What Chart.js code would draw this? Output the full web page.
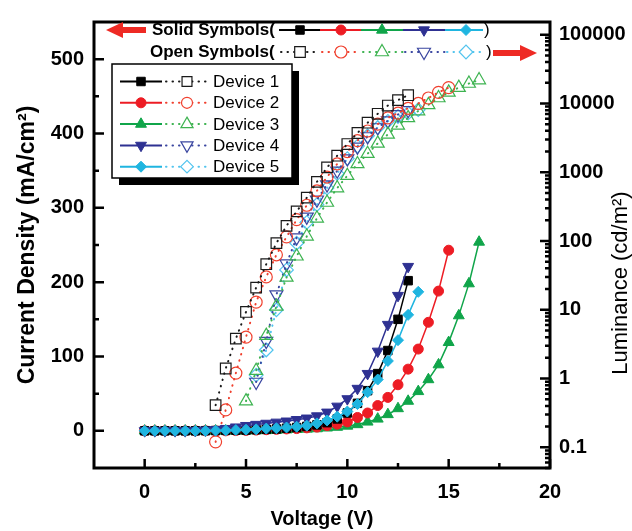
<!DOCTYPE html>
<html>
<head>
<meta charset="utf-8">
<script src="https://cdn.jsdelivr.net/npm/chart.js@4.4.1/dist/chart.umd.min.js"></script>
<style>
  html, body { margin: 0; padding: 0; background: #fff; }
</style>
</head>
<body>
<canvas id="chart" width="632" height="531"></canvas>
<script>
'use strict';

// ***** DATA *****
// voltage grid (V), 0.5 V steps
const voltage = [0, 0.5, 1, 1.5, 2, 2.5, 3, 3.5, 4, 4.5, 5, 5.5, 6, 6.5, 7, 7.5, 8, 8.5,
  9, 9.5, 10, 10.5, 11, 11.5, 12, 12.5, 13, 13.5, 14, 14.5, 15, 15.5, 16, 16.5];

const deviceNames = ['Device 1', 'Device 2', 'Device 3', 'Device 4', 'Device 5'];

// current density (mA/cm2), starting at 0 V
const currentDev1 = [0, 0, 0, 0, 0, 0, 0.2, 0.4, 0.6, 0.8, 1, 1.5, 2, 2.5, 3.5, 4.5, 6, 8,
  11, 16, 24, 37, 54, 77, 108, 150, 202];
const currentDev2 = [0, 0, 0, 0, 0, 0, 0, 0, 0, 0.3, 0.5, 1, 1.5, 2, 2.5, 3, 4, 5,
  7, 9, 12, 18, 24, 34, 45, 62, 83, 110, 146, 188, 243];
const currentDev3 = [0, 0, 0, 0, 0, 0, 0, 0, 0, 0, 0, 0.3, 0.5, 1, 1.5, 2, 2.5, 3,
  4, 5, 6.5, 8.5, 12, 16, 22, 30, 40, 53, 69, 89, 119, 155, 198, 254];
const currentDev4 = [0, 0, 0, 0, 0, 0.3, 0.8, 1.5, 3, 5, 7, 8.5, 10, 11.5, 13, 15, 17, 20,
  25, 33, 43, 57, 77, 107, 143, 182, 221];
const currentDev5 = [0, 0, 0, 0, 0, 0, 0, 0.3, 0.5, 1, 1.5, 2, 3, 3.5, 4.5, 5.5, 7, 10,
  14, 19, 26, 36, 52, 69, 94, 122, 156, 187];

// luminance (cd/m2), starting at the first voltage where it is measured
const lumStartVolt = [3.5, 3.5, 5, 5.5, 5.5];
const lumDev1 = [0.41, 1.4, 3.8, 9.3, 21, 46, 93, 166, 270, 427, 724, 1175, 1740, 2570,
  3720, 5250, 7080, 9330, 11200, 13200];
const lumDev2 = [0.12, 0.35, 1.2, 4.0, 12.9, 30, 63, 115, 204, 331, 537, 851, 1320, 2000,
  2880, 3980, 5010, 6170, 7240, 8510, 10000, 12000, 14500, 17000];
const lumDev3 = [0.47, 1.3, 4.2, 11.2, 29.5, 60, 117, 214, 363, 589, 891, 1320, 1860, 2630,
  3550, 4790, 6170, 7760, 9550, 12000, 14500, 17000, 19500, 21900];
const lumDev4 = [0.89, 3.5, 16.6, 46.8, 112, 224, 398, 661, 1050, 1580, 2340, 3310, 4470,
  5620, 6920, 7940];
const lumDev5 = [1.12, 2.6, 10, 38, 93, 186, 339, 589, 955, 1580, 2400, 3390, 4470, 5500,
  6460, 7240, 8130];

const currentData = [currentDev1, currentDev2, currentDev3, currentDev4, currentDev5];
const lumData = [lumDev1, lumDev2, lumDev3, lumDev4, lumDev5];

// tick values
const xTickValues = [0, 5, 10, 15, 20];
const xMinorValues = [2.5, 7.5, 12.5, 17.5];
const jTickValues = [0, 100, 200, 300, 400, 500];
const jMinorValues = [50, 150, 250, 350, 450];
const lumTickValues = [0.1, 1, 10, 100, 1000, 10000, 100000];

// ***** STYLE *****
const solidColors = ['#000000', '#ed1c24', '#10a54a', '#2e3192', '#1fb5e0'];
const openColors = ['#1a1a1a', '#f0402e', '#3db350', '#3a46a0', '#52c4ee'];
const pointStyles = ['rect', 'circle', 'triangle', 'triangle', 'rectRot'];
const pointRotations = [0, 0, 0, 180, 0];
const solidRadius = [6, 5, 6.3, 6.3, 5.5];
const openRadius = [7.5, 6, 7.5, 7.5, 6.8];
const solidOrder = [2, 3, 4, 1, 0];
const FONT = '"Liberation Sans", Arial, sans-serif';

// ***** HELPERS *****
function pairUp(values, startVolt) {
  let start = voltage.indexOf(startVolt);
  return values.map((v, i) => ({ x: voltage[start + i], y: v }));
}

function marker(ctx, i, x, y, r, fill, stroke, lw) {
  ctx.setLineDash([]);
  ctx.fillStyle = fill;
  ctx.strokeStyle = stroke;
  ctx.lineWidth = lw;
  Chart.helpers.drawPoint(ctx, {
    pointStyle: pointStyles[i], rotation: pointRotations[i], radius: r, borderWidth: lw
  }, x, y);
}

function solidSeg(ctx, i, x1, x2, y) {
  ctx.setLineDash([]);
  ctx.strokeStyle = solidColors[i];
  ctx.lineWidth = 2;
  ctx.beginPath(); ctx.moveTo(x1, y); ctx.lineTo(x2, y); ctx.stroke();
}

function dottedSeg(ctx, i, x1, x2, y) {
  ctx.setLineDash([0.5, 6]);
  ctx.lineCap = 'round';
  ctx.strokeStyle = openColors[i];
  ctx.lineWidth = 2;
  ctx.beginPath(); ctx.moveTo(x1, y); ctx.lineTo(x2, y); ctx.stroke();
  ctx.lineCap = 'butt';
}

function arrow(ctx, tipX, baseX, y) {
  let dir = Math.sign(baseX - tipX);
  let hx = tipX + dir * 17;
  ctx.fillStyle = '#ee2a24';
  ctx.beginPath();
  ctx.moveTo(tipX, y);
  ctx.lineTo(hx, y - 8);
  ctx.lineTo(hx, y - 3);
  ctx.lineTo(baseX, y - 3);
  ctx.lineTo(baseX, y + 3);
  ctx.lineTo(hx, y + 3);
  ctx.lineTo(hx, y + 8);
  ctx.closePath();
  ctx.fill();
}

// ***** DECORATION PLUGIN: frame, inward ticks, keys, right title *****
const decorPlugin = {
  id: 'decor',
  afterDraw(chart) {
    const { ctx, chartArea: a, scales } = chart;
    ctx.save();

    // frame
    ctx.strokeStyle = '#000';
    ctx.lineWidth = 3;
    ctx.strokeRect(a.left, a.top, a.right - a.left, a.bottom - a.top);

    // inward ticks
    ctx.lineWidth = 2.5;
    ctx.beginPath();
    xTickValues.forEach(v => { let p = scales.x.getPixelForValue(v); ctx.moveTo(p, a.bottom); ctx.lineTo(p, a.bottom - 9); });
    xMinorValues.forEach(v => { let p = scales.x.getPixelForValue(v); ctx.moveTo(p, a.bottom); ctx.lineTo(p, a.bottom - 5); });
    jTickValues.forEach(v => { let p = scales.y.getPixelForValue(v); ctx.moveTo(a.left, p); ctx.lineTo(a.left + 10, p); });
    jMinorValues.forEach(v => { let p = scales.y.getPixelForValue(v); ctx.moveTo(a.left, p); ctx.lineTo(a.left + 5, p); });
    lumTickValues.forEach(v => { let p = scales.y2.getPixelForValue(v); ctx.moveTo(a.right, p); ctx.lineTo(a.right - 10, p); });
    for (let d = 0.01; d <= 100000; d *= 10) {
      for (let k = 2; k <= 9; k++) {
        let v = d * k;
        if (v < scales.y2.min || v > scales.y2.max) continue;
        let p = scales.y2.getPixelForValue(v);
        ctx.moveTo(a.right, p); ctx.lineTo(a.right - 5, p);
      }
    }
    ctx.stroke();

    // top key: solid / open symbols
    const segX = [279, 320, 361, 403, 445, 483];
    const markX = [300, 341, 382, 424, 466];
    ctx.fillStyle = '#000';
    ctx.textBaseline = 'middle';
    ctx.font = 'bold 17px ' + FONT;
    ctx.fillText('Solid Symbols(', 152, 30);
    ctx.fillText('Open Symbols(', 150, 52);
    for (let i = 0; i < 5; i++) {
      solidSeg(ctx, i, segX[i], segX[i + 1], 30);
      dottedSeg(ctx, i, segX[i] + 2, segX[i + 1], 52);
    }
    for (let i = 0; i < 5; i++) {
      marker(ctx, i, markX[i], 30, solidRadius[i], solidColors[i], solidColors[i], 1);
      marker(ctx, i, markX[i], 52, openRadius[i], '#fff', openColors[i], 1.2);
    }
    ctx.fillStyle = '#000';
    ctx.font = '17px ' + FONT;
    ctx.fillText(')', 484, 30);
    ctx.fillText(')', 486, 52);
    arrow(ctx, 106, 146, 30);
    arrow(ctx, 537, 493, 53);

    // device legend box with drop shadow
    ctx.setLineDash([]);
    ctx.fillStyle = '#000';
    ctx.fillRect(119, 71, 180, 114);
    ctx.fillStyle = '#fff';
    ctx.fillRect(112, 64, 180, 114);
    ctx.strokeStyle = '#000';
    ctx.lineWidth = 1.5;
    ctx.strokeRect(112, 64, 180, 114);
    for (let i = 0; i < 5; i++) {
      let y = 81.5 + i * 21.3;
      solidSeg(ctx, i, 120, 162, y);
      marker(ctx, i, 141, y, solidRadius[i], solidColors[i], solidColors[i], 1);
      dottedSeg(ctx, i, 166, 208, y);
      marker(ctx, i, 187, y, openRadius[i] - 0.5, '#fff', openColors[i], 1.2);
      ctx.fillStyle = '#000';
      ctx.font = '17px ' + FONT;
      ctx.textBaseline = 'middle';
      ctx.fillText(deviceNames[i], 213, y + 1);
    }

    // right axis title, reading bottom to top
    ctx.translate(621, 283);
    ctx.rotate(-Math.PI / 2);
    ctx.textAlign = 'center';
    ctx.font = '22px ' + FONT;
    ctx.fillStyle = '#000';
    ctx.fillText('Luminance (cd/m\u00b2)', 0, 0);

    ctx.restore();
  }
};

// ***** DATASETS *****
let datasets = [];
for (let i = 0; i < 5; i++) {
  datasets.push({
    label: deviceNames[i] + ' J',
    data: pairUp(currentData[i], 0),
    yAxisID: 'y',
    borderColor: solidColors[i],
    backgroundColor: solidColors[i],
    borderWidth: 1.5,
    pointStyle: pointStyles[i],
    pointRotation: pointRotations[i],
    pointRadius: solidRadius[i],
    pointBorderWidth: 1,
    order: solidOrder[i]
  });
}
for (let i = 0; i < 5; i++) {
  datasets.push({
    label: deviceNames[i] + ' L',
    data: pairUp(lumData[i], lumStartVolt[i]),
    yAxisID: 'y2',
    borderColor: openColors[i],
    backgroundColor: 'rgba(0,0,0,0)',
    borderWidth: 2,
    borderDash: [0.5, 6],
    borderCapStyle: 'round',
    pointStyle: pointStyles[i],
    pointRotation: pointRotations[i],
    pointRadius: openRadius[i],
    pointBorderWidth: 1.2,
    pointBorderColor: openColors[i],
    pointBackgroundColor: 'rgba(0,0,0,0)',
    order: 5 + i
  });
}

const tickFont = { family: FONT, size: 20, weight: 'bold' };

let chartObj = {
  type: 'line',
  data: { datasets: datasets },
  options: {
    responsive: false,
    animation: false,
    layout: { padding: { top: 14, left: 0, right: 0, bottom: 0 } },
    plugins: { legend: { display: false }, tooltip: { enabled: false } },
    scales: {
      x: {
        type: 'linear',
        min: -2.5,
        max: 20,
        grid: { display: false, drawTicks: false },
        border: { display: false },
        afterBuildTicks: s => { s.ticks = xTickValues.map(v => ({ value: v })); },
        afterFit: s => { s.height = 63; },
        ticks: { font: tickFont, color: '#000', padding: 12, maxRotation: 0 },
        title: { display: true, text: 'Voltage (V)', color: '#000',
          font: { family: FONT, size: 20, weight: 'bold' }, padding: { top: 0, bottom: 0 } }
      },
      y: {
        type: 'linear',
        position: 'left',
        min: -50,
        max: 550,
        grid: { display: false, drawTicks: false },
        border: { display: false },
        afterBuildTicks: s => { s.ticks = jTickValues.map(v => ({ value: v })); },
        afterFit: s => { s.width = 94; },
        ticks: { font: tickFont, color: '#000', padding: 10 },
        title: { display: true, text: 'Current Density (mA/cm\u00b2)', color: '#000',
          font: { family: FONT, size: 23, weight: 'bold' }, padding: { top: 14, bottom: 0 } }
      },
      y2: {
        type: 'logarithmic',
        position: 'right',
        min: 0.05,
        max: 153000,
        grid: { display: false, drawTicks: false },
        border: { display: false },
        afterBuildTicks: s => { s.ticks = lumTickValues.map(v => ({ value: v })); },
        afterFit: s => { s.width = 82; },
        ticks: { font: tickFont, color: '#000', padding: 9, callback: v => String(v) }
      }
    }
  },
  plugins: [decorPlugin]
};

let canvasElem = document.getElementById('chart');
new Chart(canvasElem, chartObj);
</script>
</body>
</html>
